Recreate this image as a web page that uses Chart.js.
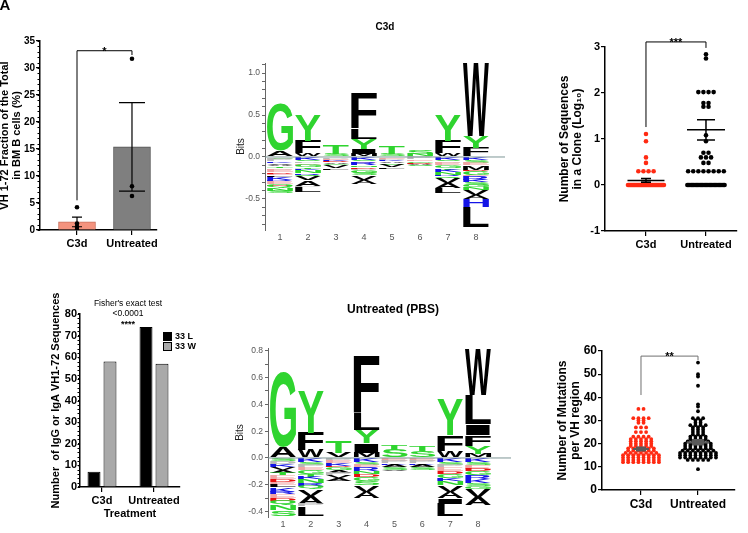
<!DOCTYPE html>
<html>
<head>
<meta charset="utf-8">
<script src="https://cdn.jsdelivr.net/npm/chart.js@4.4.1/dist/chart.umd.min.js"></script>
<style>
  body { margin: 0; background: #fff; }
  #wrap { position: relative; width: 748px; height: 533px; overflow: hidden; }
  #wrap canvas { position: absolute; left: 0; top: 0; }
</style>
</head>
<body>
<div id="wrap">
  <canvas id="cA" width="748" height="533"></canvas>
  <canvas id="cB" width="748" height="533"></canvas>
  <canvas id="cC" width="748" height="533"></canvas>
  <canvas id="cD" width="748" height="533"></canvas>
  <canvas id="cL1" width="748" height="533"></canvas>
  <canvas id="cL2" width="748" height="533"></canvas>
</div>
<script>
// ---- data ----
const groups = ["C3d", "Untreated"];

// VH1-72 fraction in BM B cells (%)
const fracMean = [1.5, 15.4];
const fracSem = [0.9, 8.2];
const fracC3d = [4.2, 1.2, 0.6, 0.1];
const fracUntr = [31.7, 8.1, 6.3];

// IgG / IgA VH1-72 sequences
const seqL = [7, 74];
const seqW = [58, 57];

// sequences in a clone (log10)
const cloneLevels = [0, 0.3, 0.48, 0.6, 0.7, 0.95, 1.08, 1.11, 1.7, 1.78, 2.02, 2.75, 2.84];
const cloneC3d = [38, 4, 1, 1, 0, 1, 0, 1, 0, 0, 0, 0, 0];
const cloneUntr = [30, 8, 2, 3, 2, 1, 1, 0, 2, 2, 4, 1, 1];
const cloneMean = [0.1, 1.2];
const cloneSem = [0.04, 0.22];

// mutations per VH region
const mutLevels = [9, 12, 13, 14, 15, 16, 17, 18, 19, 20, 21, 22, 23, 24, 25, 26, 27, 28, 29, 30, 31, 34, 35, 36, 37, 45, 49, 50, 55];
const mutC3d = [0, 8, 8, 8, 8, 7, 6, 6, 5, 5, 5, 5, 4, 0, 3, 0, 3, 0, 2, 2, 4, 0, 2, 0, 0, 0, 0, 0, 0];
const mutUntr = [1, 0, 5, 8, 8, 8, 7, 6, 6, 6, 5, 4, 4, 3, 3, 3, 3, 4, 2, 2, 3, 1, 0, 1, 1, 1, 1, 1, 1];
const mutMean = [17.7, 20.6];
const mutSem = [0.6, 0.9];

// sequence logos: [letter, bits], positives bottom->top, negatives from 0 downwards
const logoPositions = [1, 2, 3, 4, 5, 6, 7, 8];
const c3dPos = [
  [["A", .07], ["G", .57]],
  [["W", .04], ["F", .15], ["Y", .31]],
  [["S", .03], ["T", .11]],
  [["M", .04], ["I", .06], ["Y", .12], ["L", .12], ["F", .42]],
  [["S", .03], ["T", .09]],
  [["N", .04], ["S", .05]],
  [["W", .04], ["F", .15], ["Y", .30]],
  [["F", .11], ["Y", .14], ["W", .87]]
];
const c3dNeg = [
  [["S", .02], ["P", .03], ["K", .02], ["V", .02], ["A", .02], ["T", .02], ["P", .02], ["E", .03], ["D", .02], ["E", .02], ["L", .02], ["K", .03], ["R", .02], ["E", .03], ["D", .02], ["Q", .03], ["N", .03], ["S", .03]],
  [["K", .03], ["S", .02], ["P", .02], ["E", .02], ["G", .03], ["T", .02], ["K", .02], ["N", .03], ["R", .02], ["Q", .02], ["V", .05], ["A", .06], ["P", .02], ["L", .06]],
  [["P", .02], ["E", .02], ["K", .01], ["D", .01], ["A", .02], ["G", .02], ["V", .03], ["L", .02]],
  [["K", .03], ["S", .02], ["E", .02], ["R", .03], ["N", .02], ["D", .02], ["P", .02], ["G", .03], ["S", .03], ["V", .05], ["A", .05]],
  [["E", .02], ["P", .02], ["K", .01], ["A", .02], ["S", .02], ["V", .03], ["L", .02]],
  [["P", .03], ["E", .02], ["G", .02], ["D", .01], ["A", .02], ["S", .01]],
  [["K", .03], ["S", .02], ["P", .02], ["E", .03], ["G", .03], ["T", .02], ["K", .03], ["N", .03], ["R", .02], ["Q", .02], ["V", .06], ["A", .06], ["L", .06]],
  [["K", .04], ["S", .03], ["E", .03], ["M", .05], ["D", .02], ["G", .04], ["E", .02], ["R", .04], ["K", .03], ["S", .03], ["G", .03], ["N", .03], ["V", .06], ["A", .05], ["H", .09], ["L", .25]]
];
const pbsPos = [
  [["A", .08], ["G", .56]],
  [["W", .06], ["F", .13], ["Y", .31]],
  [["V", .04], ["T", .09]],
  [["M", .04], ["I", .07], ["Y", .10], ["L", .12], ["F", .43]],
  [["S", .06], ["T", .04]],
  [["S", .05], ["T", .04]],
  [["W", .05], ["F", .12], ["Y", .27]],
  [["M", .03], ["Y", .06], ["F", .08], ["I", .08], ["L", .22], ["W", .34]]
];
const pbsNeg = [
  [["S", .02], ["P", .03], ["K", .02], ["V", .02], ["A", .02], ["T", .02], ["E", .03], ["D", .02], ["E", .02], ["L", .02], ["K", .03], ["R", .02], ["E", .03], ["D", .02], ["Q", .03], ["N", .04], ["S", .04]],
  [["K", .03], ["S", .02], ["P", .02], ["E", .02], ["G", .03], ["T", .02], ["K", .02], ["N", .03], ["R", .02], ["Q", .02], ["V", .05], ["A", .06], ["P", .02], ["L", .07]],
  [["P", .02], ["E", .02], ["K", .02], ["D", .01], ["G", .02], ["A", .02], ["P", .02], ["V", .02], ["A", .02]],
  [["K", .03], ["S", .02], ["E", .02], ["R", .03], ["N", .02], ["D", .02], ["G", .03], ["S", .03], ["V", .05], ["A", .05]],
  [["E", .02], ["P", .02], ["K", .01], ["A", .02], ["S", .02], ["V", .01]],
  [["E", .02], ["P", .02], ["K", .01], ["A", .02], ["S", .02]],
  [["K", .03], ["S", .02], ["P", .02], ["E", .03], ["D", .02], ["G", .03], ["K", .02], ["N", .03], ["V", .05], ["A", .05], ["I", .04], ["L", .09]],
  [["K", .03], ["S", .02], ["E", .03], ["D", .02], ["G", .03], ["R", .03], ["K", .03], ["S", .02], ["G", .02], ["V", .06], ["A", .06]]
];

// ---- styling ----
const FONT = '"Liberation Sans", Arial, sans-serif';
Chart.defaults.font.family = FONT;
Chart.defaults.color = "#000";
Chart.defaults.animation = false;
Chart.defaults.plugins.legend.display = false;
Chart.defaults.plugins.tooltip.enabled = false;

const letterColor = {
  G: "#2fd42f", S: "#2fd42f", T: "#2fd42f", Y: "#2fd42f", C: "#2fd42f", N: "#2fd42f", Q: "#2fd42f",
  K: "#1414e6", R: "#1414e6", H: "#1414e6",
  D: "#e81010", E: "#f0a4a4",
  A: "#000", V: "#000", L: "#000", I: "#000", W: "#000", F: "#000", M: "#000", P: "#b8b8b8"
};

// fixes chart area to given pixel box
function area(l, t, r, b, yw, xh) {
  return { padding: { left: l - yw, top: t, right: 748 - r, bottom: 533 - b - xh } };
}

function yAxis(min, max, step, size, title, titleSize, yw, tl) {
  return {
    type: "linear", min, max,
    afterFit: s => { s.width = yw; },
    ticks: { stepSize: step, font: { size, weight: "bold" }, padding: 1, color: "#000" },
    grid: { drawOnChartArea: false, color: "#000", tickLength: tl || 4, lineWidth: 1.2 },
    border: { color: "#000", width: 1.5 },
    title: { display: true, text: title, font: { size: titleSize, weight: "bold", lineHeight: 1.1 }, padding: 0 }
  };
}

function xAxis(min, max, size, xh, extra) {
  return Object.assign({
    type: "linear", min, max, offset: false,
    afterFit: s => { s.height = xh; },
    afterBuildTicks: s => { s.ticks = groups.map((g, i) => ({ value: i })); },
    ticks: { callback: v => groups[v], font: { size, weight: "bold" }, color: "#000", padding: 2, maxRotation: 0, autoSkip: false },
    grid: { drawOnChartArea: false, offset: false, color: "#000", tickLength: 5, lineWidth: 1.2 },
    border: { color: "#000", width: 1.5 }
  }, extra || {});
}

// beeswarm-ish rows for repeated values
function swarm(levels, counts, idx, step, maxW) {
  const pts = [];
  levels.forEach((v, i) => {
    const n = counts[i];
    const w = Math.min((n - 1) * step, maxW);
    for (let k = 0; k < n; k++) {
      const off = n > 1 ? -w / 2 + w * k / (n - 1) : 0;
      pts.push({ x: idx + off, y: v });
    }
  });
  return pts;
}

// error bars, brackets, minor ticks, free text
const annot = {
  id: "annot",
  afterDatasetsDraw(chart, args, o) {
    const ctx = chart.ctx, sx = chart.scales.x, sy = chart.scales.y;
    ctx.save();
    if (o.zero) {
      const y0 = sy.getPixelForValue(0);
      ctx.strokeStyle = "#7d9696"; ctx.lineWidth = 1;
      ctx.beginPath(); ctx.moveTo(chart.chartArea.left, y0); ctx.lineTo(chart.chartArea.right, y0); ctx.stroke();
    }
    if (o.minor) {
      const x0 = chart.chartArea.left;
      ctx.strokeStyle = "#000"; ctx.lineWidth = 1;
      ctx.beginPath();
      for (let v = sy.min; v <= sy.max + 1e-9; v += o.minor) {
        const py = Math.round(sy.getPixelForValue(v)) + 0.5;
        ctx.moveTo(x0, py); ctx.lineTo(x0 - 2.5, py);
      }
      ctx.stroke();
    }
    (o.errs || []).forEach(e => {
      const cx = sx.getPixelForValue(e.x);
      const top = sy.getPixelForValue(e.mean + e.sem);
      const bot = sy.getPixelForValue(e.mean - e.sem);
      const mid = sy.getPixelForValue(e.mean);
      ctx.strokeStyle = e.color || "#000"; ctx.lineWidth = e.lw || 1.2;
      ctx.beginPath();
      if (e.lineW) { ctx.moveTo(cx - e.lineW / 2, mid); ctx.lineTo(cx + e.lineW / 2, mid); }
      ctx.moveTo(cx, top); ctx.lineTo(cx, bot);
      ctx.moveTo(cx - e.capW / 2, top); ctx.lineTo(cx + e.capW / 2, top);
      ctx.moveTo(cx - e.capW / 2, bot); ctx.lineTo(cx + e.capW / 2, bot);
      ctx.stroke();
    });
    (o.brackets || []).forEach(b => {
      const x1 = sx.getPixelForValue(b.x1), x2 = sx.getPixelForValue(b.x2), y = sy.getPixelForValue(b.y);
      ctx.strokeStyle = b.color || "#000"; ctx.lineWidth = 1;
      ctx.beginPath();
      ctx.moveTo(x1, sy.getPixelForValue(b.d1)); ctx.lineTo(x1, y);
      ctx.lineTo(x2, y); ctx.lineTo(x2, sy.getPixelForValue(b.d2));
      ctx.stroke();
      ctx.fillStyle = "#000"; ctx.font = "bold " + (b.size || 11) + "px " + FONT;
      ctx.textAlign = "center"; ctx.textBaseline = "alphabetic";
      ctx.fillText(b.label, (x1 + x2) / 2, y + 4);
    });
    (o.texts || []).forEach(t => {
      const px = t.px ? t.x : sx.getPixelForValue(t.x);
      const py = t.px ? t.y : sy.getPixelForValue(t.y);
      ctx.fillStyle = t.color || "#000";
      ctx.font = (t.weight || "normal") + " " + t.size + "px " + FONT;
      ctx.textAlign = t.align || "center"; ctx.textBaseline = "middle";
      ctx.fillText(t.t, px, py);
    });
    if (o.legend) {
      const L = o.legend;
      chart.data.datasets.forEach((ds, i) => {
        const y = L.y + i * L.gap;
        ctx.fillStyle = ds.backgroundColor; ctx.strokeStyle = "#000"; ctx.lineWidth = 1;
        ctx.fillRect(L.x, y, 9, 9); ctx.strokeRect(L.x + 0.5, y + 0.5, 8, 8);
        ctx.fillStyle = "#000"; ctx.font = "bold 9px " + FONT;
        ctx.textAlign = "left"; ctx.textBaseline = "middle";
        ctx.fillText(ds.label, L.x + 12, y + 5);
      });
    }
    ctx.restore();
  }
};

// stretched letters into stacked bar rectangles
const glyphs = {
  id: "glyphs",
  afterDatasetsDraw(chart) {
    const ctx = chart.ctx;
    ctx.save();
    ctx.font = "bold 100px " + FONT;
    ctx.textAlign = "left"; ctx.textBaseline = "alphabetic";
    chart.data.datasets.forEach((ds, di) => {
      const meta = chart.getDatasetMeta(di);
      meta.data.forEach((el, i) => {
        const ch = ds.letters[i];
        const { x, y, base, width } = el.getProps(["x", "y", "base", "width"], true);
        const top = Math.min(y, base), h = Math.abs(base - y);
        if (!ch || h < 0.3) return;
        const m = ctx.measureText(ch);
        const gw = m.actualBoundingBoxLeft + m.actualBoundingBoxRight;
        const gh = m.actualBoundingBoxAscent + m.actualBoundingBoxDescent;
        ctx.save();
        ctx.translate(x - width / 2, top);
        ctx.scale(width / gw, h / gh);
        ctx.fillStyle = letterColor[ch];
        ctx.fillText(ch, m.actualBoundingBoxLeft, m.actualBoundingBoxAscent);
        ctx.restore();
      });
    });
    ctx.restore();
  }
};

// ---- A: VH1-72 fraction ----
new Chart(document.getElementById("cA"), {
  type: "bar",
  data: {
    datasets: [
      {
        type: "scatter", order: 1,
        data: fracC3d.map(v => ({ x: 0, y: v })).concat(fracUntr.map(v => ({ x: 1, y: v }))),
        pointRadius: 2.3, backgroundColor: "#000", borderWidth: 0
      },
      {
        order: 2,
        data: fracMean.map((v, i) => ({ x: i, y: v })),
        backgroundColor: ["#f4937e", "#7f7f7f"], borderColor: ["#c8705e", "#555"],
        borderWidth: 1, barThickness: 37
      }
    ]
  },
  options: {
    responsive: false,
    layout: area(40, 41, 157, 230, 41, 22),
    scales: {
      x: xAxis(-0.673, 1.455, 11, 22),
      y: yAxis(0, 35, 5, 10, ["VH 1-72 Fraction of the Total", "in BM B cells (%)"], 11, 41)
    },
    plugins: {
      annot: {
        minor: 1,
        errs: fracMean.map((m, i) => ({ x: i, mean: m, sem: fracSem[i], capW: i ? 26 : 10 })),
        brackets: [{ x1: 0, x2: 1, y: 33.2, d1: 5.5, d2: 32.4, label: "*" }],
        texts: [{ t: "A", x: 5, y: 6, px: true, size: 15, weight: "bold" }]
      }
    }
  },
  plugins: [annot]
});

// ---- B: 33 L vs 33 W ----
new Chart(document.getElementById("cB"), {
  type: "bar",
  data: {
    datasets: [
      { label: "33 L", data: seqL.map((v, i) => ({ x: i, y: v })), backgroundColor: "#000", borderColor: "#000", borderWidth: 1 },
      { label: "33 W", data: seqW.map((v, i) => ({ x: i, y: v })), backgroundColor: "#a9a9a9", borderColor: "#000", borderWidth: 1 }
    ]
  },
  options: {
    responsive: false,
    categoryPercentage: 0.615, barPercentage: 0.81,
    layout: area(80, 314, 180, 487, 30, 34),
    scales: {
      x: xAxis(-0.423, 1.5, 11, 34, { title: { display: true, text: "Treatment", font: { size: 11, weight: "bold" }, padding: 0 } }),
      y: Object.assign(yAxis(0, 80, 10, 11, "Number  of IgG or IgA VH1-72 Sequences", 11, 30, 2), {})
    },
    plugins: {
      annot: {
        minor: 2,
        legend: { x: 163, y: 332, gap: 10 },
        texts: [
          { t: "Fisher's exact test", x: 0.5, y: 84.6, size: 8.5 },
          { t: "<0.0001", x: 0.5, y: 80, size: 8.5 },
          { t: "****", x: 0.5, y: 75.3, size: 9, weight: "bold" }
        ]
      }
    }
  },
  plugins: [annot]
});

// ---- C: sequences per clone ----
new Chart(document.getElementById("cC"), {
  type: "scatter",
  data: {
    datasets: [
      { data: swarm(cloneLevels, cloneC3d, 0, 0.085, 0.6), pointRadius: 2.3, backgroundColor: "#ff2a12", borderWidth: 0 },
      { data: swarm(cloneLevels, cloneUntr, 1, 0.085, 0.62), pointRadius: 2.3, backgroundColor: "#000", borderWidth: 0 }
    ]
  },
  options: {
    responsive: false,
    layout: area(605, 47, 737, 231, 47, 22),
    scales: {
      x: xAxis(-0.683, 1.517, 11, 22),
      y: yAxis(-1, 3, 1, 11, ["Number of Sequences", "in a Clone (Log\u2081\u2080)"], 12, 47)
    },
    plugins: {
      annot: {
        errs: cloneMean.map((m, i) => ({ x: i, mean: m, sem: cloneSem[i], lineW: i ? 38 : 37, capW: i ? 18 : 10, lw: 1.5 })),
        brackets: [{ x1: 0, x2: 1, y: 3.11, d1: 1.26, d2: 2.98, label: "***" }]
      }
    }
  },
  plugins: [annot]
});

// ---- D: mutations per VH ----
new Chart(document.getElementById("cD"), {
  type: "scatter",
  data: {
    datasets: [
      { data: swarm(mutLevels, mutC3d, 0, 0.09, 0.64), pointRadius: 1.9, backgroundColor: "#ff2a12", borderWidth: 0 },
      { data: swarm(mutLevels, mutUntr, 1, 0.09, 0.64), pointRadius: 1.9, backgroundColor: "#000", borderWidth: 0 }
    ]
  },
  options: {
    responsive: false,
    layout: area(602, 351, 735, 490, 46, 22),
    scales: {
      x: xAxis(-0.684, 1.649, 12, 22),
      y: yAxis(0, 60, 10, 12, ["Number of Mutations", "per VH region"], 12, 46)
    },
    plugins: {
      annot: {
        errs: mutMean.map((m, i) => ({ x: i, mean: m, sem: mutSem[i], lineW: i ? 22 : 16, capW: i ? 12 : 10, lw: 2.2, color: "#5a5a5a" })),
        brackets: [{ x1: 0, x2: 1, y: 57.8, d1: 41, d2: 56, label: "**", color: "#707070" }]
      }
    }
  },
  plugins: [annot]
});

// ---- logos ----
function logoSets(pos, neg) {
  const sets = [];
  [[pos, 1], [neg, -1]].forEach(([cols, sign]) => {
    const depth = Math.max(...cols.map(c => c.length));
    for (let k = 0; k < depth; k++) {
      const data = [], letters = [];
      cols.forEach((c, p) => {
        if (c[k]) { data.push({ x: logoPositions[p], y: sign * c[k][1] }); letters.push(c[k][0]); }
      });
      sets.push({ data, letters, backgroundColor: "rgba(0,0,0,0)", borderWidth: 0, barThickness: 26 });
    }
  });
  return sets;
}

function logoChart(id, pos, neg, box, xr, yr, step, labelEvery, title) {
  new Chart(document.getElementById(id), {
    type: "bar",
    data: { datasets: logoSets(pos, neg) },
    options: {
      responsive: false,
      layout: area(box[0], box[1], box[2], box[3], box[4], 16),
      scales: {
        x: {
          type: "linear", stacked: true, min: xr[0], max: xr[1], offset: false,
          afterFit: s => { s.height = 16; },
          afterBuildTicks: s => { s.ticks = logoPositions.map(v => ({ value: v })); },
          ticks: { callback: v => String(v), font: { size: 9 }, color: "#555", padding: 2, autoSkip: false, maxRotation: 0 },
          grid: { display: false, drawTicks: false, offset: false },
          border: { display: false }
        },
        y: {
          type: "linear", stacked: true, min: yr[0], max: yr[1],
          afterFit: s => { s.width = box[4]; },
          ticks: {
            stepSize: step, includeBounds: false, autoSkip: false, font: { size: 8.5 }, color: "#555", padding: 2,
            callback: v => {
              const r = v / labelEvery;
              return Math.abs(r - Math.round(r)) < 1e-6 ? v.toFixed(1) : "";
            }
          },
          grid: { drawOnChartArea: false, color: "#666", tickLength: 3 },
          border: { color: "#666", width: 1 },
          title: { display: true, text: "Bits", font: { size: 10 }, color: "#222", padding: 0 }
        }
      },
      plugins: {
        annot: { zero: true, texts: [{ t: title[0], x: title[1], y: title[2], px: true, size: title[3], weight: "bold" }] }
      }
    },
    plugins: [glyphs, annot]
  });
}

logoChart("cL1", c3dPos, c3dNeg, [265, 63, 505, 230, 30], [0.464, 9.036], [-0.87, 1.12], 0.1, 0.5, ["C3d", 385, 27, 10]);
logoChart("cL2", pbsPos, pbsNeg, [268, 348, 511, 517, 34], [0.462, 9.18], [-0.44, 0.82], 0.1, 0.2, ["Untreated (PBS)", 393, 310, 12]);
</script>
</body>
</html>
